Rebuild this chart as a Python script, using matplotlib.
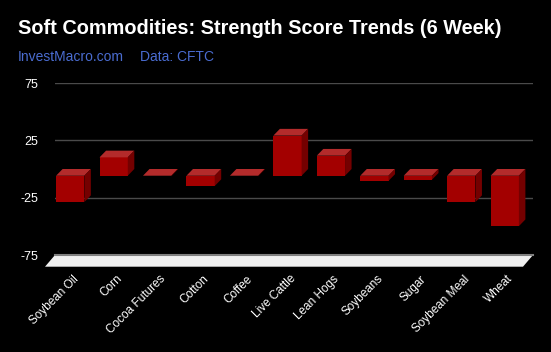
import numpy as np
import matplotlib.pyplot as plt
from matplotlib.patches import Polygon

plt.rcParams['font.family'] = ['Liberation Sans', 'DejaVu Sans']

# chart data
commodities = ['Soybean Oil', 'Corn', 'Cocoa Futures', 'Cotton', 'Coffee',
               'Live Cattle', 'Lean Hogs', 'Soybeans', 'Sugar',
               'Soybean Meal', 'Wheat']
scores = [-23, 16, -0.5, -9, -0.5, 35, 17.5, -4.5, -3.5, -23, -44]
y_ticks = [75, 25, -25, -75]

# 3d look settings (depth in data units)
bar_w = 0.65
dx, dy = 0.15, 5.85
floor_dx, floor_dy = 0.23, 10.2

front_col = '#a30000'
top_col = '#b32b2b'
side_col = '#740000'

fig = plt.figure(figsize=(5.51, 3.52), dpi=100, facecolor='black')
ax = fig.add_axes([55 / 551, 97 / 352, 478 / 551, 172 / 352])
ax.set_facecolor('black')

n = len(commodities)
x = np.arange(n)
ax.set_xlim(-0.5, n - 0.5)
ax.set_ylim(-75, 75)

# back wall gridlines
for t in y_ticks[:-1]:
    ax.axhline(t, color='#4a4a4a', lw=1, zorder=0)

# floor
floor = Polygon([(-0.5, -75), (n - 0.5, -75),
                 (n - 0.5 - floor_dx, -75 - floor_dy), (-0.5 - floor_dx, -75 - floor_dy)],
                closed=True, facecolor='#f0f0f0', edgecolor='none', clip_on=False, zorder=1)
ax.add_patch(floor)
ax.plot([-0.5, n - 0.5], [-75, -75], color='#808080', lw=1.5, clip_on=False, zorder=2)

# bars: front face + top + right side
for xi, v in zip(x, scores):
    xf = xi - dx
    ax.bar(xf, v, width=bar_w, bottom=-dy, color=front_col, zorder=3)
    top = max(v, 0)
    bot = min(v, 0)
    ax.add_patch(Polygon([(xf - bar_w / 2, top - dy), (xf + bar_w / 2, top - dy),
                          (xi + bar_w / 2, top), (xi - bar_w / 2, top)],
                         closed=True, facecolor=top_col, edgecolor='none', zorder=3))
    ax.add_patch(Polygon([(xf + bar_w / 2, bot - dy), (xf + bar_w / 2, top - dy),
                          (xi + bar_w / 2, top), (xi + bar_w / 2, bot)],
                         closed=True, facecolor=side_col, edgecolor='none', zorder=3))

for s in ax.spines.values():
    s.set_visible(False)

ax.set_yticks(y_ticks)
ax.set_yticklabels([str(t) for t in y_ticks])
ax.tick_params(axis='y', length=0, pad=12, labelcolor='white', labelsize=9)
ax.set_xticks(x)
ax.set_xticklabels(commodities, rotation=45, ha='right', va='center',
                   rotation_mode='anchor')
ax.tick_params(axis='x', length=0, pad=16, labelcolor='white', labelsize=8.5)

fig.text(18 / 551, 1 - 29 / 352, 'Soft Commodities: Strength Score Trends (6 Week)',
         color='white', fontsize=14.3, fontweight='bold', va='center')
fig.text(18 / 551, 1 - 57 / 352, 'InvestMacro.com', color='#4a6cd0',
         fontsize=10, va='center')
fig.text(140 / 551, 1 - 57 / 352, 'Data: CFTC', color='#4a6cd0',
         fontsize=10, va='center')

fig.savefig('out.png', dpi=100, facecolor='black')
